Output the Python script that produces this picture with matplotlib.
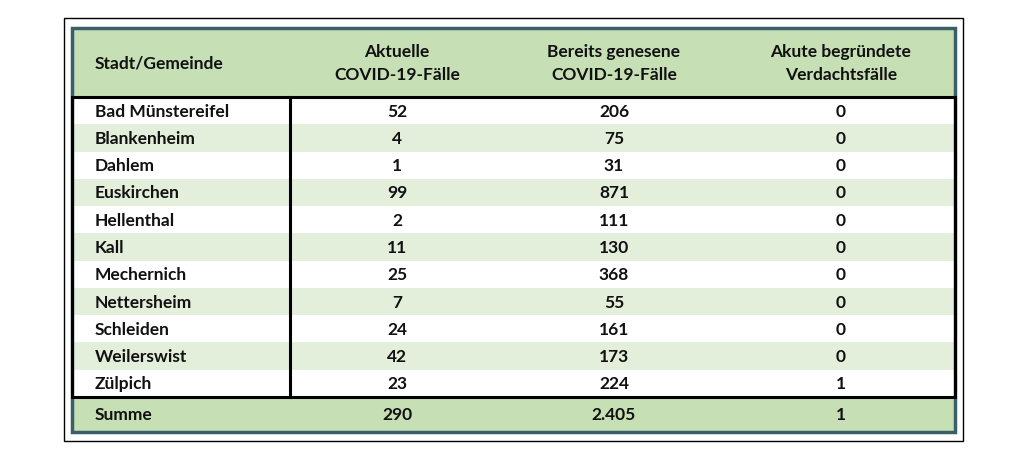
import matplotlib
matplotlib.use("Agg")
import matplotlib.pyplot as plt
from matplotlib.patches import Rectangle

headers = ["Stadt/Gemeinde", "Aktuelle\nCOVID-19-Fälle",
           "Bereits genesene\nCOVID-19-Fälle", "Akute begründete\nVerdachtsfälle"]
towns = ["Bad Münstereifel", "Blankenheim", "Dahlem", "Euskirchen", "Hellenthal",
         "Kall", "Mechernich", "Nettersheim", "Schleiden", "Weilerswist", "Zülpich"]
aktuell = ["52", "4", "1", "99", "2", "11", "25", "7", "24", "42", "23"]
genesen = ["206", "75", "31", "871", "111", "130", "368", "55", "161", "173", "224"]
verdacht = ["0", "0", "0", "0", "0", "0", "0", "0", "0", "0", "1"]
summe = ["Summe", "290", "2.405", "1"]

GREEN = "#c6dfb4"
LIGHT = "#e3eedb"
TEAL = "#3b5f69"
FONT = dict(family="Lato", fontweight="bold", fontsize=12.5, color="#111111")

fig = plt.figure(figsize=(10.19, 4.59), dpi=100)
ax = fig.add_axes([0, 0, 1, 1])
ax.set_xlim(0, 1019); ax.set_ylim(459, 0); ax.axis("off")

x0, x1 = 72, 955
y_head, y_body, y_sum, y_end = 28, 97, 397, 432
col_x = [95, 397, 614, 841]

ax.add_patch(Rectangle((64, 18), 899, 423, fill=False, ec="black", lw=1))
ax.add_patch(Rectangle((x0, y_head), x1 - x0, y_body - y_head, fc=GREEN, ec="none"))
ax.add_patch(Rectangle((x0, y_sum), x1 - x0, y_end - y_sum, fc=GREEN, ec="none"))

rh = (y_sum - y_body) / len(towns)
for i, row in enumerate(zip(towns, aktuell, genesen, verdacht)):
    y = y_body + i * rh
    if i % 2 == 1:
        ax.add_patch(Rectangle((x0, y), x1 - x0, rh, fc=LIGHT, ec="none"))
    for j, val in enumerate(row):
        ax.text(col_x[j], y + rh / 2 + 1, val, ha="left" if j == 0 else "center",
                va="center", **FONT)

for j, h in enumerate(headers):
    ax.text(col_x[j], (y_head + y_body) / 2 + 1, h, ha="left" if j == 0 else "center",
            va="center", linespacing=1.6, **FONT)
for j, s in enumerate(summe):
    ax.text(col_x[j], (y_sum + y_end) / 2 + 1, s, ha="left" if j == 0 else "center",
            va="center", **FONT)

# borders
ax.add_patch(Rectangle((x0, y_head), x1 - x0, y_end - y_head, fill=False, ec=TEAL, lw=2.5))
ax.add_patch(Rectangle((x0, y_body), x1 - x0, y_sum - y_body, fill=False, ec="black", lw=2.2))
ax.plot([290, 290], [y_body, y_sum], color="black", lw=2.2)

fig.savefig("out.png", dpi=100)
